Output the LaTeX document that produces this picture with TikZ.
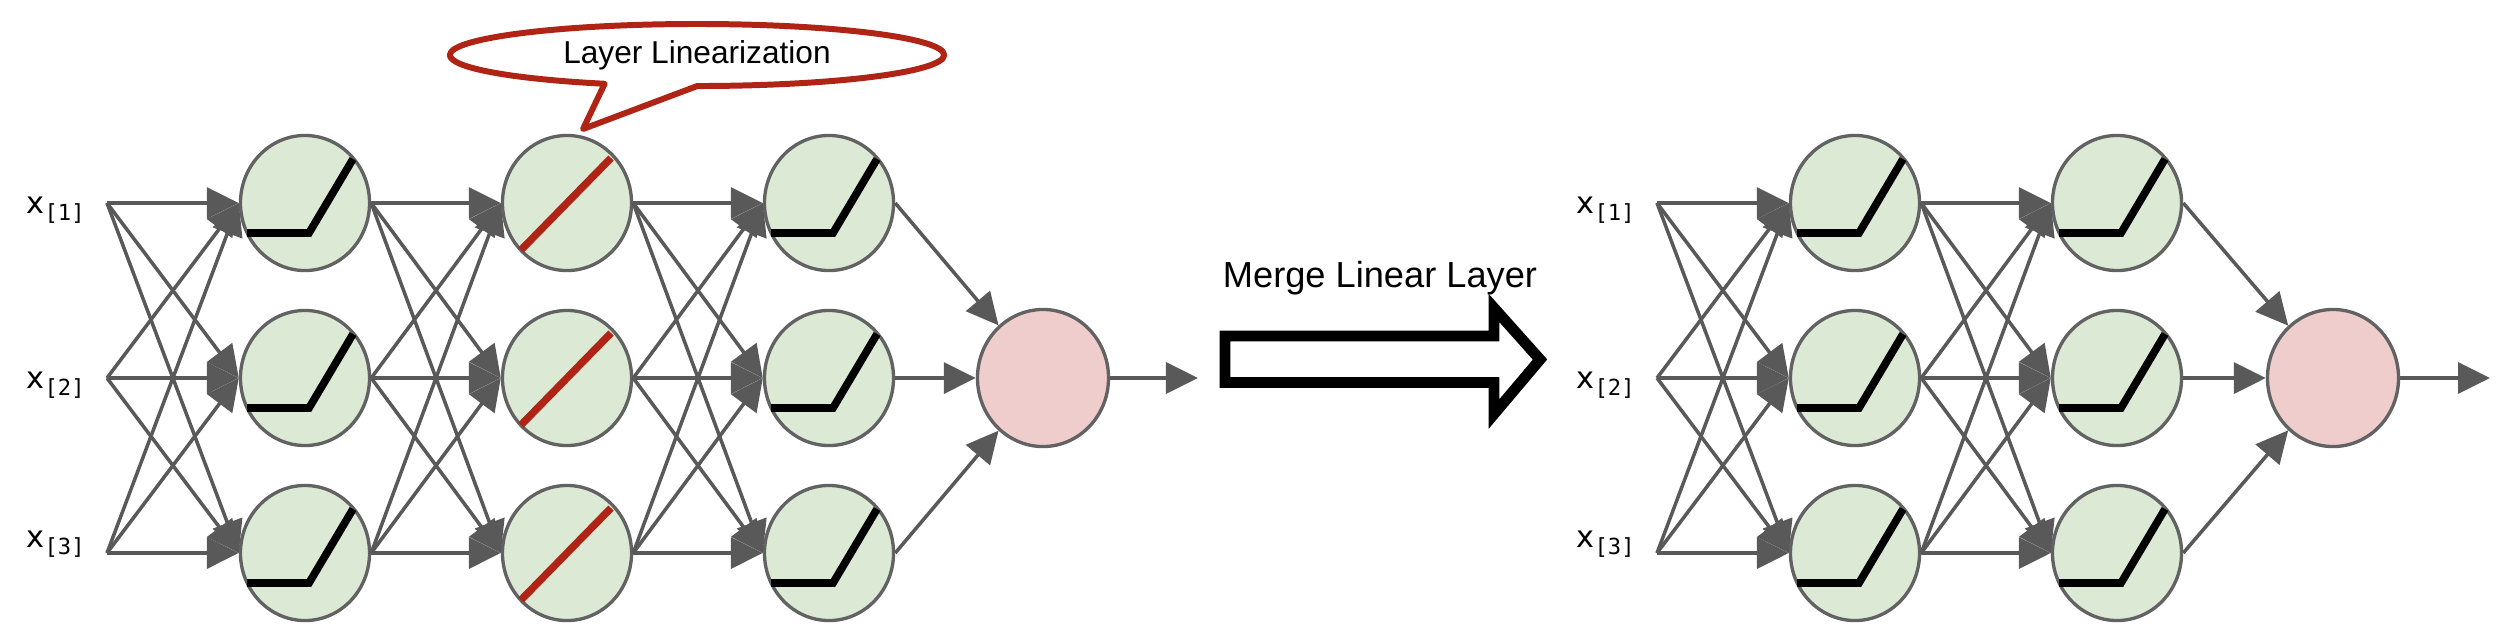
\documentclass[tikz,border=0pt]{standalone}
\usepackage{fontspec}
\setmainfont{Liberation Sans}
\newfontfamily\labfont{DejaVu Sans}
\newfontfamily\labmono{DejaVu Sans Mono}
\usetikzlibrary{arrows.meta,shapes.geometric,shapes.callouts}

\definecolor{edgegray}{RGB}{89,89,89}
\definecolor{ringgray}{RGB}{98,98,98}
\definecolor{neurongreen}{RGB}{220,233,213}
\definecolor{outpink}{RGB}{238,205,204}
\definecolor{linred}{RGB}{176,36,22}

\newcommand{\relu}[1]{\draw[reluline,shift={(#1.center)}] (-58,-30) -- (4,-30) -- (48,44);}
\newcommand{\linact}[1]{\draw[linline,shift={(#1.center)}] (-46,-47) -- (44,45);}
\newcommand{\xin}[1]{{\labfont\fontsize{8.6}{10}\selectfont x}\raisebox{-0.07cm}{\labmono\fontsize{6.3}{7}\selectfont[#1]}}

\begin{document}
\begin{tikzpicture}[x=0.01cm,y=0.01cm,
  neuron/.style={ellipse,draw=ringgray,line width=0.95pt,fill=neurongreen,
    minimum width=1.29cm,minimum height=1.35cm,inner sep=0pt},
  outneuron/.style={neuron,fill=outpink,minimum width=1.31cm,minimum height=1.37cm},
  edge/.style={draw=edgegray,line width=1pt,-{Triangle[length=0.32cm,width=0.31cm]}},
  reluline/.style={line width=2.2pt,black,line join=miter},
  linline/.style={line width=2.1pt,linred},
  inlabel/.style={anchor=base west,inner sep=0pt}]
  \useasboundingbox (0,0) rectangle (2500,632);

  % left network: three hidden layers
  \foreach \r/\y in {1/429,2/254,3/79} {
    \coordinate (in\r) at (107,\y);
    \node[neuron] (la\r) at (305,\y) {};
    \node[neuron] (lb\r) at (567,\y) {};
    \node[neuron] (lc\r) at (829,\y) {};
  }
  \node[outneuron] (lout) at (1043,254) {};
  \coordinate (lend) at (1198,254);
  \node[inlabel] (lx1) at (26,419) {\xin{1}};
  \node[inlabel] (lx2) at (26,244) {\xin{2}};
  \node[inlabel] (lx3) at (26,85) {\xin{3}};

  \foreach \i in {1,2,3} {
    \relu{la\i} \linact{lb\i} \relu{lc\i}
    \foreach \j in {1,2,3} {
      \draw[edge] (in\i) -- (la\j.west);
      \draw[edge] (la\i.east) -- (lb\j.west);
      \draw[edge] (lb\i.east) -- (lc\j.west);
    }
    \draw[edge] (lc\i.east) -- (lout);
  }
  \draw[edge] (lout.east) -- (lend);

  % callout over the linearized layer
  \node[ellipse callout,draw=linred,line width=1.7pt,fill=white,line join=round,
    minimum width=4.94cm,minimum height=0.62cm,inner sep=0pt,
    callout absolute pointer={(583,503)},callout pointer arc=22,
    font=\fontsize{9}{11}\selectfont] (bubble) at (697,577) {Layer Linearization};

  % merge step
  \node[anchor=base,inner sep=0pt,font=\fontsize{10.3}{12}\selectfont] (mergetxt)
    at (1380,345) {Merge Linear Layer};
  \draw[line width=3.1pt,line join=miter,fill=white]
    (1225,296) -- (1494,296) -- (1494,324) -- (1540,272.5) -- (1494,218)
    -- (1494,249.5) -- (1225,249.5) -- cycle;

  % right network: merged
  \foreach \r/\y in {1/429,2/254,3/79} {
    \coordinate (jn\r) at (1657,\y);
    \node[neuron] (ra\r) at (1855,\y) {};
    \node[neuron] (rb\r) at (2117,\y) {};
  }
  \node[outneuron] (rout) at (2333,254) {};
  \coordinate (rend) at (2490,254);
  \node[inlabel] (rx1) at (1576,419) {\xin{1}};
  \node[inlabel] (rx2) at (1576,244) {\xin{2}};
  \node[inlabel] (rx3) at (1576,85) {\xin{3}};

  \foreach \i in {1,2,3} {
    \relu{ra\i} \relu{rb\i}
    \foreach \j in {1,2,3} {
      \draw[edge] (jn\i) -- (ra\j.west);
      \draw[edge] (ra\i.east) -- (rb\j.west);
    }
    \draw[edge] (rb\i.east) -- (rout);
  }
  \draw[edge] (rout.east) -- (rend);
\end{tikzpicture}
\end{document}
